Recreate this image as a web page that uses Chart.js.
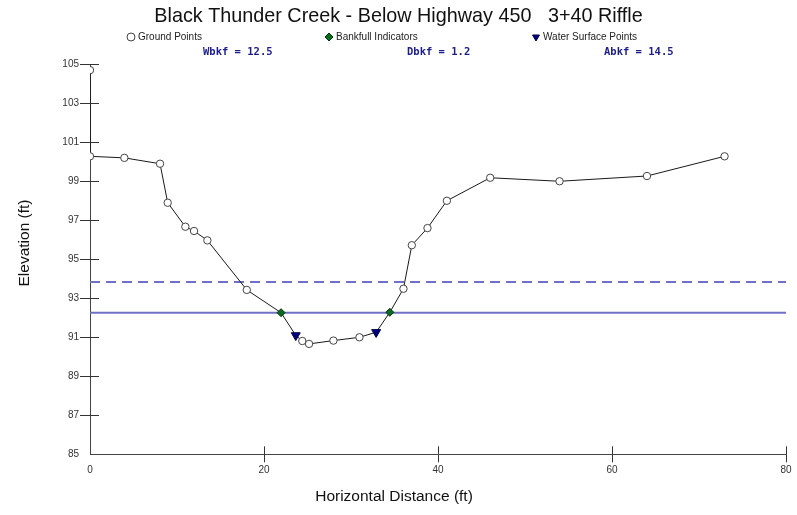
<!DOCTYPE html>
<html>
<head>
<meta charset="utf-8">
<title>Black Thunder Creek - Below Highway 450 3+40 Riffle</title>
<script src="https://cdn.jsdelivr.net/npm/chart.js@4.4.1/dist/chart.umd.min.js"></script>
<style>
  html, body { margin: 0; padding: 0; background: #ffffff; }
  #wrap { width: 797px; height: 515px; }
</style>
</head>
<body>
<div id="wrap"><canvas id="sectionChart" width="797" height="515"></canvas></div>
<script>
// Puntos del levantamiento (distancia horizontal / elevacion, ft)
const groundX = [0, 0, 3.95, 8.05, 8.93, 10.96, 11.96, 13.49, 18.02, 21.96, 23.65, 24.4, 25.18,
                 27.98, 30.97, 32.89, 34.46, 36.03, 36.99, 38.79, 41.02, 46.0, 53.97, 64.02, 72.94];
const groundY = [104.7, 100.28, 100.2, 99.9, 97.9, 96.67, 96.45, 95.97, 93.43, 92.26, 91.1, 90.81, 90.66,
                 90.83, 91.0, 91.26, 92.28, 93.49, 95.72, 96.6, 98.0, 99.18, 99.0, 99.27, 100.28];
const bankfullX = [21.96, 34.46];
const bankfullY = [92.26, 92.28];
const waterX = [23.65, 32.89];
const waterY = [91.1, 91.26];
// Niveles horizontales: bankfull (continua) y flood-prone (discontinua)
const bankfullElev = 92.26;
const floodproneElev = 93.84;
const legendNames = ['Ground Points', 'Bankfull Indicators', 'Water Surface Points'];
const statNames = ['Wbkf', 'Dbkf', 'Abkf'];
const statValues = [12.5, 1.2, 14.5];
const xTicks = [0, 20, 40, 60, 80];
const yTicks = [85, 87, 89, 91, 93, 95, 97, 99, 101, 103, 105];

const toPoints = (xs, ys) => xs.map((x, i) => ({ x: x, y: ys[i] }));
const xMin = xTicks[0], xMax = xTicks[xTicks.length - 1];
// Los puntos de suelo que ya llevan marcador propio no se pintan como circulo
const markedX = bankfullX.concat(waterX);

// Leyenda, valores de bankfull, titulos de ejes y marcas interiores de los ejes
const headerPlugin = {
    id: 'header',
    afterDraw(chart) {
        const ctx = chart.ctx;
        const area = chart.chartArea;
        ctx.save();

        // marcas que cruzan el eje hacia dentro
        ctx.strokeStyle = '#333';
        ctx.lineWidth = 1;
        const ys = chart.scales.y, xs = chart.scales.x;
        ys.ticks.forEach((t, i) => {
            if (i === 0) return;
            const py = Math.round(ys.getPixelForValue(t.value)) + 0.5;
            ctx.beginPath(); ctx.moveTo(area.left, py); ctx.lineTo(area.left + 9, py); ctx.stroke();
        });
        xs.ticks.forEach((t, i) => {
            if (i === 0) return;
            const px = Math.round(xs.getPixelForValue(t.value)) + 0.5;
            ctx.beginPath(); ctx.moveTo(px, area.bottom); ctx.lineTo(px, area.bottom - 8); ctx.stroke();
        });

        // leyenda
        const legendX = [131, 329, 536];
        ctx.font = '10px "Liberation Sans", Arial, sans-serif';
        ctx.textBaseline = 'middle';
        ctx.textAlign = 'left';
        legendNames.forEach((name, i) => {
            const ds = chart.data.datasets.find(d => d.label === name);
            ctx.fillStyle = ds.pointBackgroundColor;
            ctx.strokeStyle = ds.pointBorderColor;
            ctx.lineWidth = 1;
            Chart.helpers.drawPoint(ctx, {
                pointStyle: ds.pointStyle,
                rotation: ds.pointRotation || 0,
                radius: 4,
                borderWidth: 1
            }, legendX[i], 37);
            ctx.fillStyle = '#222';
            ctx.fillText(name, legendX[i] + 7, 37);
        });

        // Wbkf / Dbkf / Abkf
        const statX = [203, 407, 604];
        ctx.font = 'bold 10.5px "DejaVu Sans Mono", "Liberation Mono", monospace';
        ctx.fillStyle = '#1c1c8c';
        statNames.forEach((n, i) => {
            ctx.fillText(n + ' = ' + statValues[i], statX[i], 52);
        });

        // titulos de ejes
        ctx.font = '15.5px "Liberation Sans", Arial, sans-serif';
        ctx.fillStyle = '#111';
        ctx.textAlign = 'center';
        ctx.fillText('Horizontal Distance (ft)', 394, 497);
        ctx.translate(25, 243);
        ctx.rotate(-Math.PI / 2);
        ctx.fillText('Elevation (ft)', 0, 0);
        ctx.restore();
    }
};

const gridColor = c => (c.index === 0 ? 'rgba(0,0,0,0)' : '#333');

new Chart(document.getElementById('sectionChart'), {
    type: 'scatter',
    data: {
        datasets: [
            {
                label: 'Water Surface Points',
                data: toPoints(waterX, waterY),
                pointStyle: 'triangle',
                pointRotation: 180,
                pointRadius: 5.2,
                pointBackgroundColor: '#000080',
                pointBorderColor: '#00004a',
                pointBorderWidth: 1
            },
            {
                label: 'Bankfull Indicators',
                data: toPoints(bankfullX, bankfullY),
                pointStyle: 'rectRot',
                pointRadius: 4,
                pointBackgroundColor: '#0a6a1e',
                pointBorderColor: '#03380c',
                pointBorderWidth: 1
            },
            {
                label: 'Ground Points',
                data: toPoints(groundX, groundY),
                showLine: true,
                borderColor: '#1a1a1a',
                borderWidth: 1,
                pointStyle: 'circle',
                pointRadius: c => (markedX.includes(groundX[c.dataIndex]) ? 0 : 3.7),
                pointBackgroundColor: '#ffffff',
                pointBorderColor: '#444444',
                pointBorderWidth: 1,
                clip: 0
            },
            {
                label: 'Bankfull',
                data: [{ x: xMin, y: bankfullElev }, { x: xMax, y: bankfullElev }],
                showLine: true,
                borderColor: '#7070c4',
                borderWidth: 2,
                pointRadius: 0
            },
            {
                label: 'Flood Prone',
                data: [{ x: xMin, y: floodproneElev }, { x: xMax, y: floodproneElev }],
                showLine: true,
                borderColor: '#7070c4',
                borderWidth: 2,
                borderDash: [10, 6],
                pointRadius: 0
            }
        ]
    },
    options: {
        responsive: false,
        animation: false,
        devicePixelRatio: 1,
        layout: { padding: { left: 11, right: 11, top: 0, bottom: 0 } },
        plugins: {
            legend: { display: false },
            tooltip: { enabled: false },
            title: {
                display: true,
                text: 'Black Thunder Creek - Below Highway 450   3+40 Riffle',
                color: '#111',
                font: { family: '"Liberation Sans", Arial, sans-serif', size: 19.8, weight: 'normal', lineHeight: 1.2 },
                padding: { top: 5, bottom: 35.5 }
            }
        },
        scales: {
            x: {
                type: 'linear',
                min: xMin,
                max: xMax,
                afterBuildTicks: s => { s.ticks = xTicks.map(v => ({ value: v })); },
                afterFit: s => { s.height = 60.7; },
                grid: { drawOnChartArea: false, tickLength: 8, color: gridColor },
                border: { color: '#444', width: 1 },
                ticks: {
                    color: '#333',
                    padding: 2,
                    maxRotation: 0,
                    font: { family: '"Liberation Sans", Arial, sans-serif', size: 10 }
                }
            },
            y: {
                type: 'linear',
                min: yTicks[0],
                max: yTicks[yTicks.length - 1],
                afterBuildTicks: s => { s.ticks = yTicks.map(v => ({ value: v })); },
                afterFit: s => { s.width = 79; },
                grid: { drawOnChartArea: false, tickLength: 10, color: gridColor },
                border: { color: '#444', width: 1 },
                ticks: {
                    color: '#333',
                    padding: 1,
                    font: { family: '"Liberation Sans", Arial, sans-serif', size: 10 }
                }
            }
        }
    },
    plugins: [headerPlugin]
});
</script>
</body>
</html>
